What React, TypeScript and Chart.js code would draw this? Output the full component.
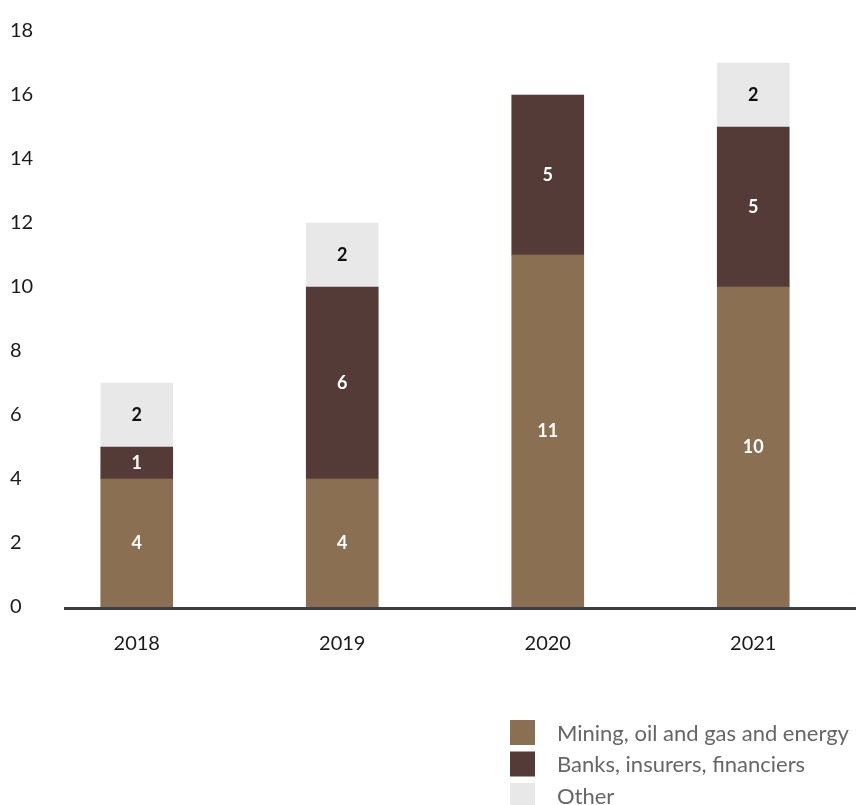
import React, { useEffect, useRef } from "react";
import { Chart, registerables } from "chart.js";

Chart.register(...registerables);

const categories = ["2018", "2019", "2020", "2021"];
const seriesNames = ["Mining, oil and gas and energy", "Banks, insurers, financiers", "Other"];
const mining = [4, 4, 11, 10];
const banks = [1, 6, 5, 5];
const other = [2, 2, 0, 2];
const yTicks = [0, 2, 4, 6, 8, 10, 12, 14, 16, 18];

const colors = ["#8b6f53", "#553b37", "#e8e8e8"];
const labelColors = ["#ffffff", "#ffffff", "#111111"];
const FONT = "Lato, 'Noto Sans', sans-serif";

const barLabelsPlugin = {
  id: "barLabels",
  afterDatasetsDraw(chart: any) {
    const ctx = chart.ctx;
    ctx.save();
    ctx.font = `bold 18px ${FONT}`;
    ctx.textAlign = "center";
    ctx.textBaseline = "middle";
    chart.data.datasets.forEach((ds: any, i: number) => {
      const meta = chart.getDatasetMeta(i);
      meta.data.forEach((el: any, j: number) => {
        const v = ds.data[j];
        if (!v) return;
        ctx.fillStyle = labelColors[i];
        ctx.fillText(String(v), el.x, (el.y + el.base) / 2);
      });
    });
    ctx.restore();
  },
};

const axisLinePlugin = {
  id: "axisLine",
  afterDatasetsDraw(chart: any) {
    const ctx = chart.ctx;
    const y0 = chart.scales.y.getPixelForValue(0);
    ctx.save();
    ctx.strokeStyle = "#3b4046";
    ctx.lineWidth = 3;
    ctx.beginPath();
    ctx.moveTo(64, y0 + 1.5);
    ctx.lineTo(chart.width, y0 + 1.5);
    ctx.stroke();
    ctx.restore();
  },
};

const legendPlugin = {
  id: "customLegend",
  afterDraw(chart: any) {
    const ctx = chart.ctx;
    const x = 510;
    const top = 720;
    const row = 31.5;
    const box = 25;
    ctx.save();
    ctx.font = `22px ${FONT}`;
    ctx.textAlign = "left";
    ctx.textBaseline = "middle";
    chart.data.datasets.forEach((ds: any, i: number) => {
      const y = top + i * row;
      ctx.fillStyle = ds.backgroundColor;
      ctx.fillRect(x, y, box, box);
      ctx.fillStyle = "#666666";
      ctx.fillText(ds.label, 557, y + box / 2 + 1);
    });
    ctx.restore();
  },
};

export default function App() {
  const ref = useRef<HTMLCanvasElement>(null);
  useEffect(() => {
    document.body.style.margin = "0";
    const chart = new Chart(ref.current!, {
      type: "bar",
      data: {
        labels: categories,
        datasets: [mining, banks, other].map((d, i) => ({
          label: seriesNames[i],
          data: d,
          backgroundColor: colors[i],
          borderWidth: 0,
          barThickness: 72,
        })),
      },
      options: {
        responsive: false,
        animation: false,
        layout: { padding: { left: 10, top: 31, right: 0, bottom: 0 } },
        plugins: { legend: { display: false }, tooltip: { enabled: false } },
        scales: {
          x: {
            stacked: true,
            grid: { display: false, drawTicks: false },
            border: { display: false },
            ticks: { color: "#1a1a1a", font: { family: FONT, size: 20 }, padding: 25 },
            afterFit: (s: any) => {
              s.height = 198;
            },
          },
          y: {
            stacked: true,
            min: 0,
            max: 18,
            grid: { display: false, drawTicks: false },
            border: { display: false },
            afterBuildTicks: (s: any) => {
              s.ticks = yTicks.map((v) => ({ value: v }));
            },
            ticks: {
              color: "#1a1a1a",
              font: { family: FONT, size: 20 },
              crossAlign: "far",
              padding: 4,
            },
            afterFit: (s: any) => {
              s.width = 24;
            },
          },
        },
      },
      plugins: [barLabelsPlugin, axisLinePlugin, legendPlugin],
    });
    return () => chart.destroy();
  }, []);
  return (
    <div style={{ width: 856, height: 805 }}>
      <canvas ref={ref} width={856} height={805} style={{ display: "block" }} />
    </div>
  );
}
